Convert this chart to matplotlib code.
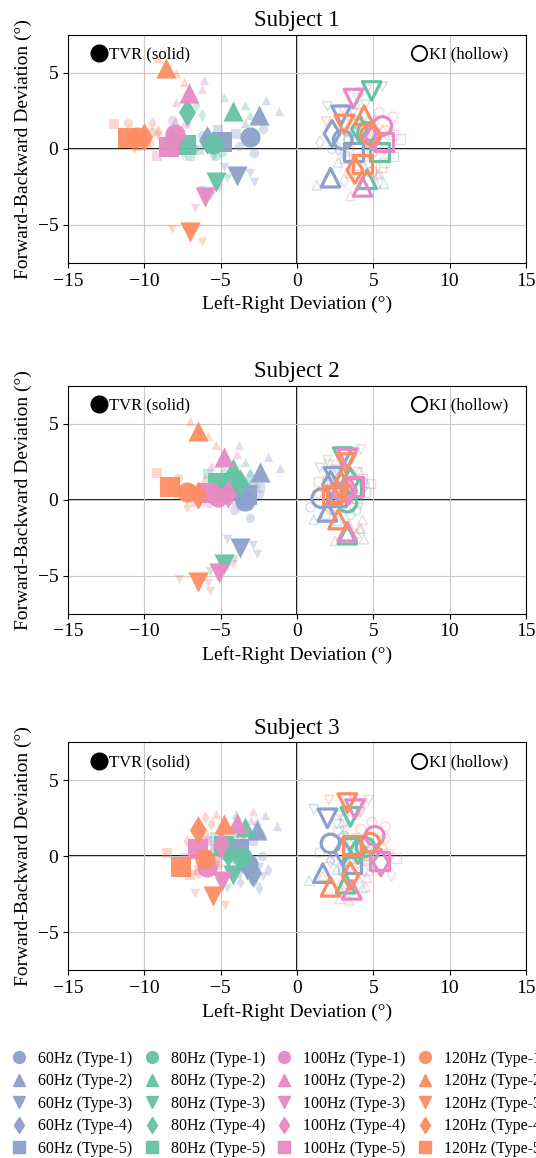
import numpy as np
import matplotlib
matplotlib.use("Agg")
import matplotlib.pyplot as plt
from matplotlib.lines import Line2D

plt.rcParams['font.family'] = ['Liberation Serif', 'DejaVu Serif']

SUBJECTS = ['Subject 1', 'Subject 2', 'Subject 3']
FREQS = ['60Hz', '80Hz', '100Hz', '120Hz']
TYPES = ['Type-1', 'Type-2', 'Type-3', 'Type-4', 'Type-5']
COLORS = ['#8da0cb', '#66c2a5', '#e78ac3', '#fc8d62']
MARKERS = ['o', '^', 'v', 'd', 's']

# mean deviation per frequency (rows) and type (cols), TVR = solid
TVR_X = {
    'Subject 1': [[-3.1, -2.5, -3.9, -5.9, -4.9],
                  [-5.5, -4.2, -5.3, -7.2, -7.3],
                  [-8.0, -7.1, -6.0, -8.2, -8.4],
                  [-10.5, -8.6, -7.0, -10.0, -11.1]],
    'Subject 2': [[-3.4, -2.4, -3.7, -4.0, -3.3],
                  [-4.1, -4.2, -4.8, -3.7, -5.2],
                  [-5.2, -4.8, -5.1, -4.5, -5.8],
                  [-7.2, -6.5, -6.5, -6.5, -8.3]],
    'Subject 3': [[-3.2, -2.6, -3.3, -2.9, -3.8],
                  [-3.6, -3.4, -4.2, -4.5, -4.8],
                  [-5.9, -3.9, -4.9, -5.0, -6.5],
                  [-6.0, -4.8, -5.5, -6.5, -7.6]],
}
TVR_Y = {
    'Subject 1': [[0.8, 2.2, -1.8, 0.6, 0.45],
                  [0.3, 2.5, -2.2, 2.4, 0.25],
                  [1.0, 3.7, -3.2, 0.5, 0.15],
                  [0.8, 5.3, -5.5, 0.8, 0.7]],
    'Subject 2': [[-0.1, 1.8, -3.2, 0.8, 0.3],
                  [1.2, 2.1, -4.2, 1.1, 1.1],
                  [0.2, 2.8, -4.8, 0.4, 0.45],
                  [0.5, 4.5, -5.4, 0.3, 0.85]],
    'Subject 3': [[-0.5, 1.7, -0.9, -1.1, 0.5],
                  [-0.05, 1.9, -1.2, 0.2, 0.7],
                  [-0.7, 2.2, -1.6, 0.8, 0.5],
                  [-0.2, 2.1, -2.6, 1.7, -0.7]],
}
# KI = hollow
KI_X = {
    'Subject 1': [[3.0, 2.2, 2.9, 2.3, 3.7],
                  [4.6, 4.6, 4.9, 4.1, 5.4],
                  [5.6, 4.3, 3.7, 5.0, 5.7],
                  [4.8, 4.4, 3.1, 3.8, 4.3]],
    'Subject 2': [[1.6, 2.0, 2.4, 2.2, 2.6],
                  [3.3, 3.3, 3.0, 3.5, 3.6],
                  [3.0, 3.3, 3.3, 3.4, 3.7],
                  [2.6, 2.7, 3.2, 2.9, 2.3]],
    'Subject 3': [[2.2, 1.7, 2.0, 3.0, 3.6],
                  [4.5, 3.2, 3.5, 4.0, 3.6],
                  [5.1, 3.6, 3.8, 5.5, 5.4],
                  [4.8, 2.2, 3.3, 3.5, 3.6]],
}
KI_Y = {
    'Subject 1': [[0.6, -1.9, 2.2, 1.0, -0.2],
                  [1.1, -2.0, 3.8, 1.3, -0.2],
                  [1.5, -2.5, 3.3, 0.8, 0.45],
                  [0.9, 2.2, 1.6, -1.4, -1.0]],
    'Subject 2': [[0.1, -0.8, 1.5, 1.0, 0.2],
                  [-0.2, -2.3, 2.8, 1.2, 0.8],
                  [0.5, -2.1, 2.7, 0.6, 0.85],
                  [0.4, -1.3, 2.4, 0.9, 0.3]],
    'Subject 3': [[0.85, -1.1, 2.5, 0.3, -0.45],
                  [0.6, -1.8, 2.6, 0.4, 0.6],
                  [1.35, -2.2, 3.1, -0.4, -0.3],
                  [0.9, -2.0, 3.5, -1.3, 0.7]],
}

# individual trials, offset from the mean (3 trials per freq/type)
TRIAL_DX = [
    [[0.9, -0.7, 0.3], [1.3, -0.9, 0.5], [0.8, -0.9, 1.1], [-0.8, 1.0, 0.4], [0.9, -0.6, -0.3]],
    [[-0.7, 0.6, 0.2], [0.8, -0.6, 1.1], [-0.9, 0.7, -0.4], [0.6, -0.8, 1.0], [-0.6, 0.9, 0.3]],
    [[0.7, -0.6, -0.2], [1.0, -0.8, 0.9], [-0.7, 0.5, 0.9], [0.7, -0.9, -0.5], [-0.8, 0.6, 1.1]],
    [[-0.6, 0.8, 1.0], [0.7, -0.5, 1.2], [-1.2, 0.8, 0.4], [0.9, -0.7, 0.5], [-0.9, 0.6, 1.2]],
]
TRIAL_DY = [
    [[0.5, -0.6, -1.1], [0.3, -0.5, 1.0], [0.2, 0.6, -0.4], [-0.6, 0.2, -1.0], [0.5, -0.4, 0.8]],
    [[0.6, -0.5, -0.8], [0.4, 0.9, -0.3], [-0.5, 0.3, -0.9], [0.5, -0.7, -0.2], [0.6, -0.3, -0.7]],
    [[0.6, -0.4, 0.9], [0.8, -0.6, 0.2], [-0.7, 0.4, 0.6], [-0.8, 0.5, -0.3], [-0.6, 0.5, 0.2]],
    [[0.9, -0.4, 0.3], [-0.3, 0.7, -0.9], [0.2, -0.6, 0.3], [0.4, -0.7, 0.9], [0.9, -0.5, -0.2]],
]

fig = plt.figure(figsize=(5.36, 11.58), dpi=100)
bottoms = [0.773, 0.470, 0.162]
axes = [fig.add_axes([0.127, b, 0.854, 0.197]) for b in bottoms]

for ax, subj in zip(axes, SUBJECTS):
    ax.grid(True, color='#c8c8c8', linewidth=0.8, zorder=0)
    ax.axhline(0, color='black', linewidth=1.3, zorder=1)
    ax.axvline(0, color='black', linewidth=1.3, zorder=1)

    for fi in range(len(FREQS)):
        c = COLORS[fi]
        for ti in range(len(TYPES)):
            m = MARKERS[ti]
            dx = np.array(TRIAL_DX[fi][ti])
            dy = np.array(TRIAL_DY[fi][ti])
            ax.scatter(TVR_X[subj][fi][ti] + dx, TVR_Y[subj][fi][ti] + dy, s=45, marker=m,
                       color=c, alpha=0.35, linewidths=0, zorder=2)
            ax.scatter(KI_X[subj][fi][ti] + dx, KI_Y[subj][fi][ti] + dy, s=45, marker=m,
                       facecolors='none', edgecolors=c, alpha=0.35, linewidths=1, zorder=2)

    for fi in range(len(FREQS)):
        c = COLORS[fi]
        for ti in range(len(TYPES)):
            m = MARKERS[ti]
            ax.scatter(TVR_X[subj][fi][ti], TVR_Y[subj][fi][ti], s=210, marker=m,
                       color=c, alpha=0.95, linewidths=0, zorder=3)
            ax.scatter(KI_X[subj][fi][ti], KI_Y[subj][fi][ti], s=180, marker=m,
                       facecolors='none', edgecolors=c, linewidths=2.3, zorder=3)

    ax.set_xlim(-15, 15)
    ax.set_ylim(-7.5, 7.5)
    ax.set_xticks([-15, -10, -5, 0, 5, 10, 15])
    ax.set_yticks([-5, 0, 5])
    ax.tick_params(labelsize=14)
    ax.set_title(subj, fontsize=16.5)
    ax.set_xlabel('Left-Right Deviation (°)', fontsize=14)
    ax.set_ylabel('Forward-Backward Deviation (°)', fontsize=14)

    tvr = ax.legend(handles=[Line2D([], [], marker='o', color='black', ls='', markersize=12,
                                    label='TVR (solid)')],
                    loc='center left', bbox_to_anchor=(0.032, 0.912), borderaxespad=0,
                    frameon=False, fontsize=12, handlelength=1.2, handletextpad=0)
    ax.add_artist(tvr)
    ax.legend(handles=[Line2D([], [], marker='o', color='black', ls='', markersize=11,
                              markerfacecolor='none', markeredgewidth=1.3, label='KI (hollow)')],
              loc='center left', bbox_to_anchor=(0.731, 0.912), borderaxespad=0,
              frameon=False, fontsize=12, handlelength=1.2, handletextpad=0)

handles = []
for fi, freq in enumerate(FREQS):
    for ti, typ in enumerate(TYPES):
        handles.append(Line2D([], [], marker=MARKERS[ti], color=COLORS[fi], ls='', markersize=8.5,
                              alpha=0.95, label=f'{freq} ({typ})'))
fig.legend(handles=handles, ncol=4, loc='upper left', bbox_to_anchor=(11 / 536, 1 - 1051 / 1158),
           frameon=False, fontsize=11.5, handlelength=1.0, handletextpad=0.7, columnspacing=0.7,
           labelspacing=0.4, borderpad=0, borderaxespad=0)

plt.savefig('out.png', dpi=100)
